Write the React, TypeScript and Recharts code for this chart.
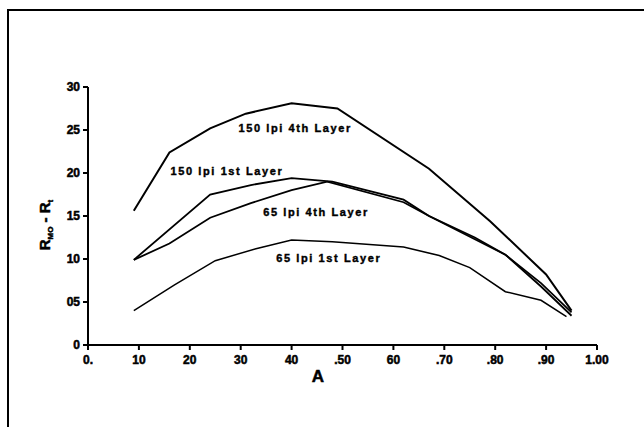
import React from "react";
import {
  LineChart,
  Line,
  XAxis,
  YAxis,
  ReferenceDot,
} from "recharts";

// sample positions (A) and measured differences for each screen/layer combination
const a150Fourth = [0.09, 0.16, 0.24, 0.31, 0.4, 0.49, 0.67, 0.79, 0.9, 0.95];
const v150Fourth = [15.6, 22.4, 25.2, 26.9, 28.1, 27.5, 20.5, 14.4, 8.2, 4.0];

const a150First = [0.09, 0.24, 0.32, 0.4, 0.48, 0.62, 0.67, 0.76, 0.82, 0.89, 0.95];
const v150First = [9.9, 17.5, 18.6, 19.4, 19.0, 16.9, 15.0, 12.3, 10.5, 7.2, 3.8];

const a65Fourth = [0.09, 0.16, 0.24, 0.32, 0.4, 0.47, 0.62, 0.67, 0.76, 0.82, 0.89, 0.95];
const v65Fourth = [9.9, 11.8, 14.8, 16.5, 18.0, 19.0, 16.6, 15.0, 12.5, 10.5, 6.8, 3.4];

const a65First = [0.09, 0.17, 0.25, 0.33, 0.4, 0.48, 0.62, 0.69, 0.75, 0.82, 0.89, 0.94];
const v65First = [4.0, 7.0, 9.8, 11.2, 12.2, 12.0, 11.4, 10.4, 9.0, 6.2, 5.2, 3.3];

const xTicks = [0, 0.1, 0.2, 0.3, 0.4, 0.5, 0.6, 0.7, 0.8, 0.9, 1.0];
const xTickLabels = ["0.", "10", "20", "30", "40", ".50", "60", ".70", ".80", ".90", "1.00"];
const yTicks = [0, 5, 10, 15, 20, 25, 30];
const yTickLabels = ["0", "05", "10", "15", "20", "25", "30"];

// curve captions, anchored in data space
const captions = [
  { text: "150 lpi 4th Layer", a: 0.407, v: 25.2 },
  { text: "150 lpi 1st Layer", a: 0.273, v: 20.2 },
  { text: "65 lpi 4th Layer", a: 0.448, v: 15.5 },
  { text: "65 lpi 1st Layer", a: 0.473, v: 10.1 },
];

const toPoints = (xs: number[], ys: number[]) =>
  xs.map((a, i) => ({ a, v: ys[i] }));

const series = [
  { name: "150 lpi 4th Layer", data: toPoints(a150Fourth, v150Fourth), width: 2 },
  { name: "150 lpi 1st Layer", data: toPoints(a150First, v150First), width: 1.8 },
  { name: "65 lpi 4th Layer", data: toPoints(a65Fourth, v65Fourth), width: 1.8 },
  { name: "65 lpi 1st Layer", data: toPoints(a65First, v65First), width: 1.5 },
];

const FONT = "'Liberation Sans', Arial, Helvetica, sans-serif";

// heavy, slightly smeared lettering
const heavy = {
  fontFamily: FONT,
  fontWeight: "bold" as const,
  fill: "#000",
  stroke: "#000",
  strokeWidth: 0.5,
};

const XTick = (props: any) => {
  const { x, y, payload } = props;
  const idx = xTicks.indexOf(payload.value);
  return (
    <text x={x} y={y + 14} textAnchor="middle" fontSize={12} {...heavy}>
      {xTickLabels[idx]}
    </text>
  );
};

const YTick = (props: any) => {
  const { x, y, payload } = props;
  const idx = yTicks.indexOf(payload.value);
  return (
    <text x={x} y={y + 4} textAnchor="end" fontSize={12} {...heavy}>
      {yTickLabels[idx]}
    </text>
  );
};

const Caption = (text: string) => (props: any) => {
  const { viewBox } = props;
  const cx = viewBox.x + viewBox.width / 2;
  const cy = viewBox.y + viewBox.height / 2;
  return (
    <text
      x={cx}
      y={cy + 4}
      textAnchor="middle"
      fontSize={11}
      letterSpacing={1.6}
      {...heavy}
      strokeWidth={0.4}
    >
      {text}
    </text>
  );
};

export default function App() {
  return (
    <div
      style={{
        position: "absolute",
        left: 0,
        top: 0,
        width: 644,
        height: 427,
        background: "#fff",
        overflow: "hidden",
      }}
    >
      {/* frame round the figure: only the left and top edges fall inside */}
      <div
        style={{
          position: "absolute",
          left: 7,
          top: 9,
          width: 700,
          height: 500,
          borderLeft: "2px solid #000",
          borderTop: "2px solid #000",
        }}
      />
      <LineChart
        width={644}
        height={427}
        margin={{ top: 87, right: 47, bottom: 52, left: 48 }}
        style={{ position: "absolute", left: 0, top: 0 }}
      >
        <XAxis
          dataKey="a"
          type="number"
          domain={[0, 1]}
          ticks={xTicks}
          allowDuplicatedCategory={false}
          stroke="#000"
          strokeWidth={2}
          tickSize={5}
          tickMargin={0}
          height={30}
          tick={<XTick />}
          tickLine={{ stroke: "#000", strokeWidth: 2 }}
        />
        <YAxis
          type="number"
          domain={[0, 30]}
          ticks={yTicks}
          stroke="#000"
          strokeWidth={2}
          tickSize={5}
          tickMargin={3}
          width={40}
          tick={<YTick />}
          tickLine={{ stroke: "#000", strokeWidth: 2 }}
        />
        {series.map((s) => (
          <Line
            key={s.name}
            data={s.data}
            dataKey="v"
            name={s.name}
            type="linear"
            stroke="#000"
            strokeWidth={s.width}
            dot={false}
            activeDot={false}
            isAnimationActive={false}
          />
        ))}
        {captions.map((c) => (
          <ReferenceDot
            key={c.text}
            x={c.a}
            y={c.v}
            r={0}
            fill="none"
            stroke="none"
            label={Caption(c.text)}
          />
        ))}
      </LineChart>
      {/* axis titles */}
      <svg
        width={644}
        height={427}
        style={{ position: "absolute", left: 0, top: 0, pointerEvents: "none" }}
      >
        <text
          transform="translate(50, 225) rotate(-90)"
          textAnchor="middle"
          fontSize={15}
          {...heavy}
        >
          R
          <tspan fontSize={8} dy={3}>MO</tspan>
          <tspan dy={-3}> {"-"} R</tspan>
          <tspan fontSize={8} dy={3}>t</tspan>
        </text>
        <text x={318} y={382} textAnchor="middle" fontSize={17} {...heavy}>
          A
        </text>
      </svg>
    </div>
  );
}
